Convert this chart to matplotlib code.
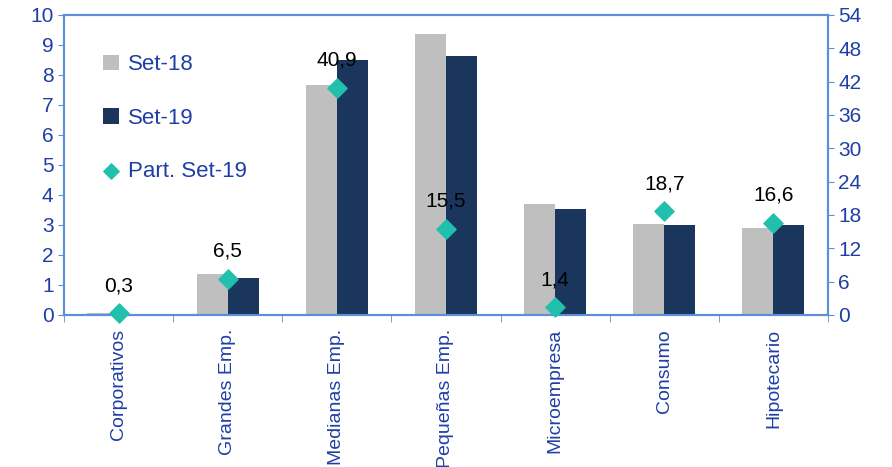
import numpy as np
import matplotlib.pyplot as plt

plt.rcParams['font.family'] = ['Liberation Sans', 'DejaVu Sans']

categorias = ['Corporativos', 'Grandes Emp.', 'Medianas Emp.', 'Pequeñas Emp.',
              'Microempresa', 'Consumo', 'Hipotecario']
set18 = [0.06, 1.37, 7.66, 9.36, 3.70, 3.04, 2.89]
set19 = [0.00, 1.23, 8.50, 8.62, 3.53, 2.99, 2.99]
part_set19 = [0.3, 6.5, 40.9, 15.5, 1.4, 18.7, 16.6]

gris = '#bfbfbf'
azul = '#1b365d'
turquesa = '#20c0ad'
eje = '#5b8fd6'
texto = '#1f3fa6'

fig = plt.figure(figsize=(8.92, 4.67), dpi=100)
ax = fig.add_axes([0.0717, 0.3255, 0.8565, 0.6425])
x = np.arange(len(categorias))
w = 0.285

ax.bar(x - w / 2, set18, w, color=gris, label='Set-18', zorder=2)
ax.bar(x + w / 2, set19, w, color=azul, label='Set-19', zorder=2)
ax.set_ylim(0, 10)
ax.set_yticks(range(0, 11))
ax.set_xlim(-0.5, len(categorias) - 0.5)

ax2 = ax.twinx()
ax2.set_ylim(0, 54)
ax2.set_yticks(range(0, 55, 6))
ax2.scatter(x, part_set19, marker='D', s=95, color=turquesa, zorder=5,
            label='Part. Set-19', clip_on=False)
for xi, v in zip(x, part_set19):
    ax2.annotate(f'{v:.1f}'.replace('.', ','), (xi, v), xytext=(0, 13),
                 textcoords='offset points', ha='center', va='bottom',
                 fontsize=15, color='black')

ax.set_xticks(x)
ax.set_xticklabels(categorias, rotation=90, fontsize=14, color=texto)
ax.set_xticks(np.arange(-0.5, len(categorias)), minor=True)
ax.tick_params(axis='x', which='major', length=0, pad=10)
ax.tick_params(axis='x', which='minor', length=5, color=eje, direction='out')
ax.tick_params(axis='y', labelsize=15, labelcolor=texto, color=eje, length=4)
ax2.tick_params(axis='y', labelsize=15, labelcolor=texto, color=eje, length=4)

for a in (ax, ax2):
    for s in a.spines.values():
        s.set_color(eje)
        s.set_linewidth(1.5)

h1, l1 = ax.get_legend_handles_labels()
h2, l2 = ax2.get_legend_handles_labels()
leg = ax.legend(h1 + h2, l1 + l2, loc='upper left', bbox_to_anchor=(0.025, 0.935),
                frameon=False, fontsize=16, labelspacing=1.45, handlelength=0.7,
                handletextpad=0.4, handleheight=0.7, markerscale=0.8)
for t in leg.get_texts():
    t.set_color(texto)

fig.savefig('out.png', dpi=100)
